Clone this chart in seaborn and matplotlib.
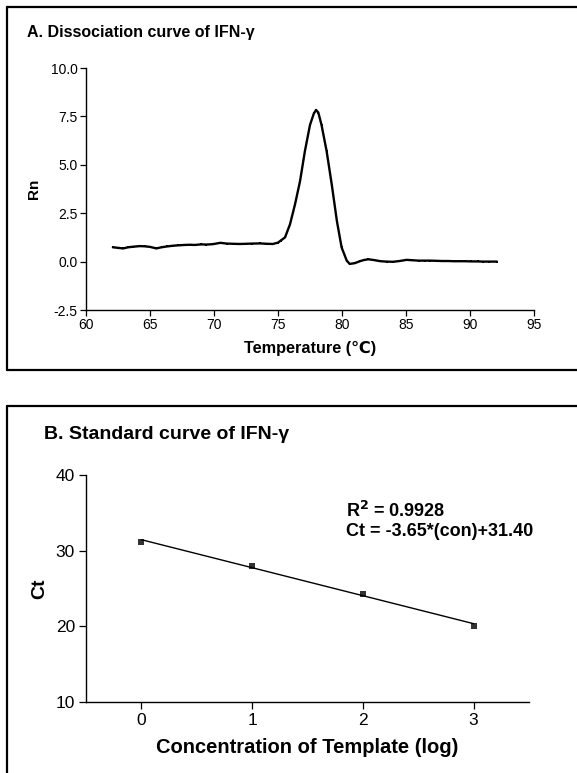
import numpy as np
import pandas as pd
import matplotlib.pyplot as plt
from matplotlib.lines import Line2D
import seaborn as sns

# === Data: dissociation (melt) curve ===
temp = [62.1, 62.5, 62.9, 63.3, 63.7, 64.2, 64.6, 65.0, 65.5, 65.9, 66.3, 66.8,
        67.2, 67.7, 68.1, 68.5, 69.0, 69.4, 69.9, 70.5, 71.0, 71.5, 72.0, 72.5,
        73.0, 73.6, 74.1, 74.6, 75.0, 75.2, 75.55, 75.94, 76.33, 76.72, 77.1,
        77.5, 77.8, 77.97, 78.15, 78.4, 78.8, 79.2, 79.6, 79.97, 80.37, 80.6,
        81.0, 81.4, 81.7, 82.06, 82.5, 83.0, 83.5, 84.0, 84.5, 85.05, 85.5,
        86.0, 86.5, 86.9, 87.4, 87.8, 88.3, 88.7, 89.2, 89.6, 90.1, 90.6,
        91.0, 91.5, 92.1]
rn = [0.74, 0.71, 0.68, 0.74, 0.77, 0.80, 0.79, 0.76, 0.68, 0.74, 0.78, 0.82,
      0.84, 0.86, 0.87, 0.86, 0.89, 0.88, 0.90, 0.97, 0.93, 0.92, 0.91, 0.92,
      0.93, 0.94, 0.92, 0.91, 0.98, 1.08, 1.25, 1.93, 2.96, 4.15, 5.70,
      7.06, 7.65, 7.83, 7.70, 7.06, 5.70, 3.98, 2.10, 0.73, 0.05, -0.12,
      -0.08, 0.02, 0.08, 0.12, 0.08, 0.02, 0.00, -0.01, 0.03, 0.09, 0.07,
      0.05, 0.05, 0.05, 0.04, 0.03, 0.03, 0.02, 0.02, 0.02, 0.01, 0.01,
      0.00, 0.00, 0.00]

# === Data: standard curve ===
conc_log = [0, 1, 2, 3]
ct_values = [31.2, 28.0, 24.3, 20.1]

melt = pd.DataFrame({'temp': temp, 'rn': rn})
std = pd.DataFrame({'conc': conc_log, 'ct': ct_values})

sns.set_style("ticks")
plt.rcParams['font.family'] = ['Liberation Sans', 'DejaVu Sans']
plt.rcParams['text.color'] = 'black'
plt.rcParams['axes.labelcolor'] = 'black'
plt.rcParams['xtick.color'] = 'black'
plt.rcParams['ytick.color'] = 'black'

W, H = 577, 773
fig = plt.figure(figsize=(W / 100, H / 100), dpi=100)

def fx(px):
    return px / W

def fy(py):
    return 1 - py / H

# === Panel A ===
axA = fig.add_axes([fx(86), fy(310), fx(534) - fx(86), fy(68) - fy(310)])
sns.lineplot(data=melt, x='temp', y='rn', ax=axA, color='black', lw=1.7,
             marker='s', markersize=1.7, markeredgewidth=0)
axA.set_xlim(60, 95)
axA.set_ylim(-2.5, 10.0)
axA.set_xticks([60, 65, 70, 75, 80, 85, 90, 95])
axA.set_yticks([-2.5, 0.0, 2.5, 5.0, 7.5, 10.0])
axA.set_yticklabels(['-2.5', '0.0', '2.5', '5.0', '7.5', '10.0'])
axA.tick_params(labelsize=10, length=4, width=0.9, colors='black', pad=2)
axA.set_xlabel('Temperature (\u2103)', fontsize=11.7, fontweight='bold', labelpad=6)
axA.set_ylabel('Rn', fontsize=11, fontweight='bold', labelpad=7)
for s in ['top', 'right']:
    axA.spines[s].set_visible(False)
for s in ['left', 'bottom']:
    axA.spines[s].set_linewidth(1.0)
    axA.spines[s].set_color('black')

fig.text(fx(27), fy(32), 'A. Dissociation curve of IFN-\u03b3', fontsize=11.5,
         fontweight='bold', va='center', ha='left')

# === Panel B ===
axB = fig.add_axes([fx(86), fy(702), fx(529) - fx(86), fy(475) - fy(702)])
sns.regplot(data=std, x='conc', y='ct', ax=axB, ci=None, marker='s',
            color='black', scatter_kws={'s': 16, 'linewidths': 0},
            line_kws={'lw': 1.0})
axB.set_xlim(-0.5, 3.5)
axB.set_ylim(10, 40)
axB.set_xticks([0, 1, 2, 3])
axB.set_yticks([10, 20, 30, 40])
axB.tick_params(labelsize=12.5, length=5, width=0.9, colors='black', pad=3)
axB.set_xlabel('Concentration of Template (log)', fontsize=14.5,
               fontweight='bold', labelpad=7)
axB.set_ylabel('Ct', fontsize=14, fontweight='bold', labelpad=5)
for s in ['top', 'right']:
    axB.spines[s].set_visible(False)
for s in ['left', 'bottom']:
    axB.spines[s].set_linewidth(1.0)
    axB.spines[s].set_color('black')

axB.text(1.85, 35.3, 'R$^\\mathbf{2}$ = 0.9928', fontsize=13, fontweight='bold',
         va='center', ha='left')
axB.text(1.85, 32.5, 'Ct = -3.65*(con)+31.40', fontsize=13, fontweight='bold',
         va='center', ha='left')

fig.text(fx(44), fy(435), 'B. Standard curve of IFN-\u03b3', fontsize=14,
         fontweight='bold', va='center', ha='left')

# === Panel frames (open on the right / bottom, as in the scan) ===
frame_kw = dict(color='black', lw=1.6, transform=fig.transFigure)
fig.add_artist(Line2D([fx(7), fx(577)], [fy(7), fy(7)], **frame_kw))
fig.add_artist(Line2D([fx(7), fx(7)], [fy(7), fy(370)], **frame_kw))
fig.add_artist(Line2D([fx(7), fx(577)], [fy(370), fy(370)], **frame_kw))
fig.add_artist(Line2D([fx(7), fx(577)], [fy(406), fy(406)], **frame_kw))
fig.add_artist(Line2D([fx(7), fx(7)], [fy(406), fy(773)], **frame_kw))

fig.savefig('out.png', dpi=100)
